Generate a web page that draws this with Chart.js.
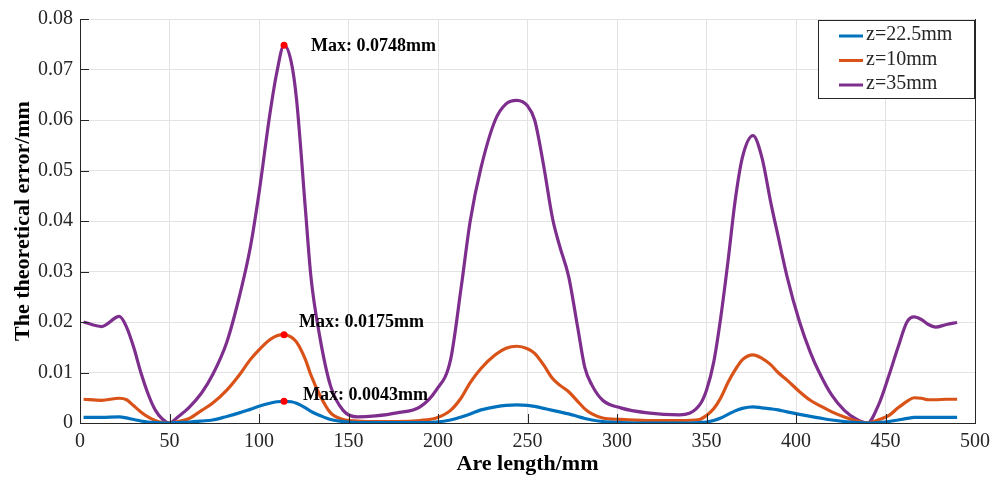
<!DOCTYPE html>
<html>
<head>
<meta charset="utf-8">
<script src="https://cdn.jsdelivr.net/npm/chart.js@4/dist/chart.umd.min.js"></script>
<style>
  html, body { margin: 0; padding: 0; background: #fff; }
  #wrap { width: 1003px; height: 478px; }
</style>
</head>
<body>
<div id="wrap"><canvas id="errChart" width="1003" height="478"></canvas></div>
<script>
// arc length samples (mm)
const arcLength = [2, 12, 22, 26, 30, 34, 38, 42, 46, 50, 55, 61, 68, 74, 82, 89, 95, 100, 106, 110,
  114, 118, 121, 126, 129, 134, 140, 147, 155, 165, 177, 190, 199, 207, 213, 218, 224, 232, 238, 244,
  250, 254, 259, 264, 268, 273, 278, 282, 286, 292, 302, 317, 335, 346, 350, 354, 358, 362, 366, 370,
  376, 381, 386, 390, 395, 402, 408, 413, 420, 427, 434, 440, 446, 452, 457, 462, 466, 470, 474, 478,
  484, 490];

// z = 22.5mm
const errZ225 = [0.0011, 0.0011, 0.0012, 0.0010, 0.0007, 0.0004, 0.0002, 0.0001, 0.0000, 0.0000,
  0.0001, 0.0002, 0.0004, 0.0006, 0.0013, 0.0020, 0.0027, 0.0033, 0.0039, 0.0042,
  0.0043, 0.0042, 0.0039, 0.0030, 0.0023, 0.0015, 0.0007, 0.0003, 0.0001, 0.0001,
  0.0001, 0.0001, 0.0002, 0.0006, 0.0012, 0.0018, 0.0026, 0.0032, 0.0035, 0.0036,
  0.0035, 0.0033, 0.0029, 0.0025, 0.0022, 0.0018, 0.0013, 0.0009, 0.0006, 0.0003,
  0.0001, 0.0000, 0.0000, 0.0001, 0.0002, 0.0005, 0.0010, 0.0017, 0.0024, 0.0029,
  0.0032, 0.0030, 0.0028, 0.0026, 0.0022, 0.0017, 0.0013, 0.0010, 0.0006, 0.0003,
  0.0001, 0.0000, 0.0001, 0.0003, 0.0006, 0.0009, 0.0011, 0.0011, 0.0011, 0.0011,
  0.0011, 0.0011];

// z = 10mm
const errZ10 = [0.0047, 0.0045, 0.0049, 0.0046, 0.0034, 0.0022, 0.0012, 0.0005, 0.0001, 0.0000,
  0.0003, 0.0009, 0.0025, 0.0039, 0.0065, 0.0095, 0.0125, 0.0145, 0.0165, 0.0173,
  0.0175, 0.0170, 0.0160, 0.0125, 0.0095, 0.0055, 0.0020, 0.0007, 0.0004, 0.0003,
  0.0003, 0.0005, 0.0010, 0.0025, 0.0050, 0.0080, 0.0108, 0.0135, 0.0148, 0.0152,
  0.0147, 0.0138, 0.0115, 0.0088, 0.0075, 0.0062, 0.0043, 0.0028, 0.0018, 0.0010,
  0.0007, 0.0005, 0.0005, 0.0007, 0.0015, 0.0028, 0.0050, 0.0080, 0.0105, 0.0125,
  0.0135, 0.0128, 0.0115, 0.0100, 0.0085, 0.0062, 0.0045, 0.0035, 0.0022, 0.0012,
  0.0004, 0.0000, 0.0006, 0.0015, 0.0030, 0.0043, 0.0050, 0.0049, 0.0046, 0.0046,
  0.0047, 0.0047];

// z = 35mm
const errZ35 = [0.0200, 0.0191, 0.0211, 0.0190, 0.0150, 0.0100, 0.0058, 0.0026, 0.0008, 0.0000,
  0.0013, 0.0031, 0.0060, 0.0095, 0.0160, 0.0250, 0.0345, 0.0455, 0.0610, 0.0695,
  0.0748, 0.0715, 0.0640, 0.0420, 0.0290, 0.0170, 0.0073, 0.0025, 0.0012, 0.0014,
  0.0020, 0.0032, 0.0065, 0.0125, 0.0270, 0.0400, 0.0505, 0.0600, 0.0632, 0.0639,
  0.0628, 0.0600, 0.0510, 0.0405, 0.0350, 0.0290, 0.0190, 0.0110, 0.0075, 0.0045,
  0.0030, 0.0020, 0.0016, 0.0035, 0.0065, 0.0120, 0.0210, 0.0320, 0.0440, 0.0525,
  0.0569, 0.0525, 0.0435, 0.0370, 0.0290, 0.0200, 0.0140, 0.0100, 0.0055, 0.0025,
  0.0007, 0.0000, 0.0035, 0.0095, 0.0150, 0.0200, 0.0210, 0.0205, 0.0195, 0.0190,
  0.0195, 0.0199];

const seriesNames = ['z=22.5mm', 'z=10mm', 'z=35mm'];
const seriesColors = ['#0072BD', '#D95319', '#7E2F8E'];

// annotated maxima
const maxX = [114, 114, 114];
const maxY = [0.0748, 0.0175, 0.0043];
const maxLabels = ['Max: 0.0748mm', 'Max: 0.0175mm', 'Max: 0.0043mm'];

const xTickVals = [0, 50, 100, 150, 200, 250, 300, 350, 400, 450, 500];
const yTickVals = [0, 0.01, 0.02, 0.03, 0.04, 0.05, 0.06, 0.07, 0.08];
const yTickLabels = ['0', '0.01', '0.02', '0.03', '0.04', '0.05', '0.06', '0.07', '0.08'];

const SERIF = "'Liberation Serif', 'Times New Roman', serif";

function toPoints(ys) {
    return arcLength.map((x, i) => ({ x: x, y: ys[i] }));
}

// label offsets (px) from each max point
const labelOffsets = [[27, 1], [15, -12], [19, -6]];

const frameAndNotes = {
    id: 'frameAndNotes',
    afterDatasetsDraw(chart) {
        const { ctx, chartArea: a, scales: { x, y } } = chart;
        ctx.save();
        // right frame line
        ctx.strokeStyle = '#262626';
        ctx.lineWidth = 1;
        ctx.beginPath();
        ctx.moveTo(a.right + 0.5, a.top);
        ctx.lineTo(a.right + 0.5, a.bottom);
        ctx.stroke();
        // inward ticks
        ctx.beginPath();
        xTickVals.forEach(v => {
            const px = Math.round(x.getPixelForValue(v)) + 0.5;
            ctx.moveTo(px, a.bottom);
            ctx.lineTo(px, a.bottom - 9);
        });
        yTickVals.forEach(v => {
            const py = Math.round(y.getPixelForValue(v)) + 0.5;
            ctx.moveTo(a.left, py);
            ctx.lineTo(a.left + 9, py);
        });
        ctx.stroke();

        // max markers and labels
        ctx.font = 'bold 18px ' + SERIF;
        ctx.textBaseline = 'middle';
        ctx.textAlign = 'left';
        maxX.forEach((mx, i) => {
            const px = x.getPixelForValue(mx);
            const py = y.getPixelForValue(maxY[i]);
            ctx.fillStyle = '#ff0000';
            ctx.beginPath();
            ctx.arc(px, py, 3.5, 0, Math.PI * 2);
            ctx.fill();
            ctx.fillStyle = '#000';
            ctx.fillText(maxLabels[i], px + labelOffsets[i][0], py + labelOffsets[i][1]);
        });

        // legend box
        const bw = 157, bh = 79;
        const bx = a.right - bw, by = a.top + 1;
        ctx.fillStyle = '#fff';
        ctx.fillRect(bx, by, bw, bh);
        ctx.strokeStyle = '#262626';
        ctx.strokeRect(bx + 0.5, by + 0.5, bw - 1, bh - 1);
        ctx.font = '20px ' + SERIF;
        seriesNames.forEach((name, i) => {
            const ly = by + 16 + i * 24.5;
            ctx.strokeStyle = seriesColors[i];
            ctx.lineWidth = 3;
            ctx.beginPath();
            ctx.moveTo(bx + 21, ly);
            ctx.lineTo(bx + 45, ly);
            ctx.stroke();
            ctx.fillStyle = '#262626';
            ctx.fillText(name, bx + 48, ly - 1);
        });
        ctx.restore();
    }
};

const ctx = document.getElementById('errChart').getContext('2d');
new Chart(ctx, {
    type: 'line',
    data: {
        datasets: [errZ225, errZ10, errZ35].map((ys, i) => ({
            label: seriesNames[i],
            data: toPoints(ys),
            borderColor: seriesColors[i],
            backgroundColor: seriesColors[i],
            borderWidth: 3.2,
            pointRadius: 0,
            fill: false,
            cubicInterpolationMode: 'monotone'
        }))
    },
    options: {
        responsive: false,
        animation: false,
        layout: { padding: { left: 0, right: 28, top: 15, bottom: 0 } },
        plugins: {
            legend: { display: false },
            tooltip: { enabled: false }
        },
        scales: {
            x: {
                type: 'linear',
                min: 0,
                max: 500,
                afterBuildTicks: s => { s.ticks = xTickVals.map(v => ({ value: v })); },
                afterFit: s => { s.height = 55; },
                grid: { color: '#e3e3e3', drawTicks: false },
                border: { display: true, color: '#262626', width: 1 },
                ticks: {
                    color: '#262626',
                    padding: 7,
                    maxRotation: 0,
                    font: { family: SERIF, size: 20 },
                    callback: v => String(v)
                },
                title: {
                    display: true,
                    text: 'Are length/mm',
                    color: '#000',
                    padding: { top: 0, bottom: 0 },
                    font: { family: SERIF, size: 22, weight: 'bold' }
                }
            },
            y: {
                min: 0,
                max: 0.08,
                afterBuildTicks: s => { s.ticks = yTickVals.map(v => ({ value: v })); },
                afterFit: s => { s.width = 80; },
                grid: { color: '#e3e3e3', drawTicks: false },
                border: { display: true, color: '#262626', width: 1 },
                ticks: {
                    color: '#262626',
                    padding: 7,
                    font: { family: SERIF, size: 20 },
                    callback: (v, i) => yTickLabels[i]
                },
                title: {
                    display: true,
                    text: 'The theoretical error/mm',
                    color: '#000',
                    padding: { top: 10, bottom: 0 },
                    font: { family: SERIF, size: 22, weight: 'bold' }
                }
            }
        }
    },
    plugins: [frameAndNotes]
});
</script>
</body>
</html>
